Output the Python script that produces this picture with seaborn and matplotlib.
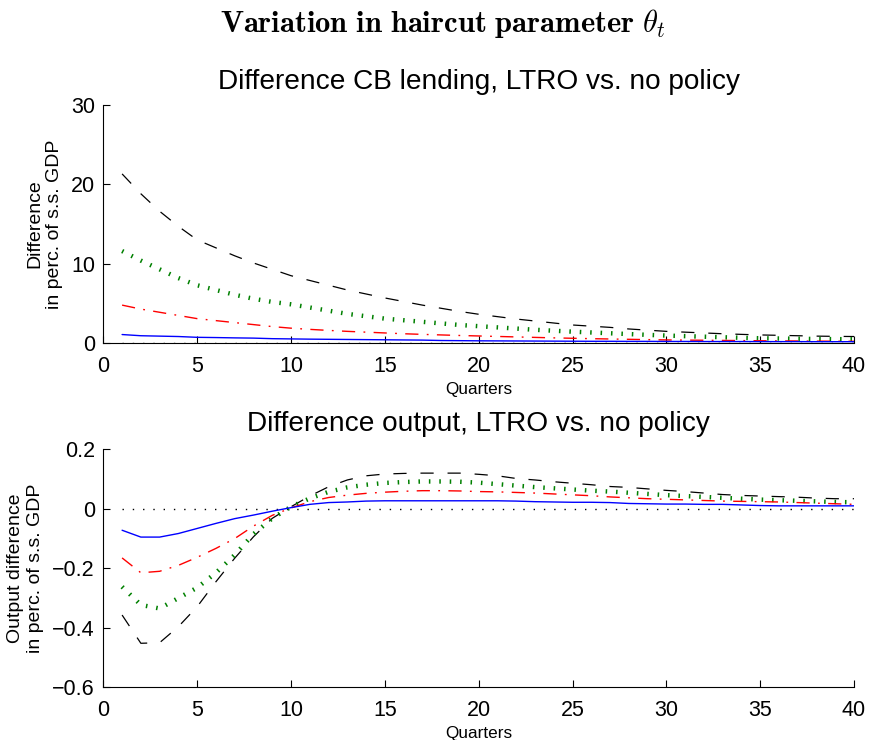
import numpy as np
import pandas as pd
import matplotlib
matplotlib.use("Agg")
import matplotlib.pyplot as plt
import seaborn as sns

quarters = list(range(1, 41))

# Top panel: difference in CB lending (perc. of s.s. GDP)
lend_blue = [1.10, 0.95, 0.90, 0.85, 0.75, 0.72, 0.68, 0.65, 0.58, 0.55,
             0.52, 0.50, 0.48, 0.46, 0.44, 0.42, 0.40, 0.35, 0.33, 0.31,
             0.30, 0.29, 0.28, 0.27, 0.26, 0.25, 0.25, 0.24, 0.24, 0.23,
             0.23, 0.22, 0.22, 0.22, 0.21, 0.21, 0.21, 0.20, 0.20, 0.20]
lend_red = [4.8, 4.3, 3.9, 3.5, 3.1, 2.85, 2.6, 2.35, 2.1, 1.9,
            1.75, 1.62, 1.5, 1.4, 1.3, 1.2, 1.12, 1.05, 0.98, 0.92,
            0.86, 0.8, 0.74, 0.68, 0.63, 0.58, 0.54, 0.5, 0.46, 0.42,
            0.4, 0.38, 0.36, 0.34, 0.32, 0.3, 0.29, 0.27, 0.26, 0.25]
lend_green = [11.6, 10.4, 9.3, 8.2, 7.3, 6.7, 6.1, 5.6, 5.2, 4.9,
              4.5, 4.1, 3.7, 3.4, 3.1, 2.9, 2.7, 2.5, 2.3, 2.15,
              2.0, 1.85, 1.7, 1.58, 1.46, 1.36, 1.26, 1.16, 1.06, 0.97,
              0.9, 0.83, 0.76, 0.69, 0.63, 0.6, 0.57, 0.54, 0.52, 0.5]
lend_black = [21.3, 18.8, 16.6, 14.7, 13.0, 12.0, 11.0, 10.1, 9.3, 8.5,
              7.9, 7.3, 6.7, 6.2, 5.7, 5.25, 4.8, 4.4, 4.0, 3.65,
              3.35, 3.05, 2.8, 2.55, 2.3, 2.15, 2.0, 1.8, 1.65, 1.5,
              1.4, 1.3, 1.2, 1.12, 1.05, 1.0, 0.95, 0.9, 0.87, 0.85]

# Bottom panel: output difference (perc. of s.s. GDP)
out_blue = [-0.072, -0.095, -0.095, -0.083, -0.066, -0.049, -0.033, -0.021, -0.008, 0.004,
            0.015, 0.021, 0.023, 0.026, 0.027, 0.027, 0.027, 0.027, 0.027, 0.027,
            0.027, 0.026, 0.024, 0.023, 0.022, 0.022, 0.021, 0.018, 0.017, 0.016,
            0.016, 0.015, 0.015, 0.013, 0.011, 0.010, 0.010, 0.010, 0.010, 0.010]
out_red = [-0.165, -0.215, -0.21, -0.19, -0.163, -0.133, -0.1, -0.058, -0.022, 0.003,
           0.024, 0.038, 0.046, 0.052, 0.056, 0.059, 0.061, 0.061, 0.060, 0.058,
           0.057, 0.055, 0.053, 0.05, 0.047, 0.044, 0.04, 0.037, 0.034, 0.032,
           0.030, 0.028, 0.026, 0.025, 0.024, 0.023, 0.021, 0.019, 0.017, 0.015]
out_green = [-0.262, -0.323, -0.335, -0.30, -0.265, -0.215, -0.155, -0.085, -0.032, 0.007,
             0.035, 0.057, 0.072, 0.081, 0.087, 0.09, 0.092, 0.092, 0.091, 0.088,
             0.083, 0.078, 0.073, 0.069, 0.065, 0.061, 0.058, 0.054, 0.05, 0.046,
             0.043, 0.04, 0.037, 0.034, 0.031, 0.029, 0.027, 0.025, 0.023, 0.022]
out_black = [-0.357, -0.452, -0.45, -0.396, -0.329, -0.245, -0.166, -0.094, -0.032, 0.007,
             0.043, 0.074, 0.097, 0.111, 0.117, 0.119, 0.12, 0.12, 0.12, 0.116,
             0.111, 0.102, 0.097, 0.091, 0.086, 0.081, 0.075, 0.072, 0.067, 0.062,
             0.058, 0.053, 0.048, 0.045, 0.043, 0.041, 0.039, 0.036, 0.034, 0.034]
zero_line = [0.0] * 40

top_title = "Difference CB lending, LTRO vs. no policy"
bottom_title = "Difference output, LTRO vs. no policy"
top_ylabel = "Difference\nin perc. of s.s. GDP"
bottom_ylabel = "Output difference\nin perc. of s.s. GDP"
xlabel = "Quarters"
suptitle = r"$\mathbf{Variation\ in\ haircut\ parameter}\ \theta_t$"

sns.set_style("ticks")
plt.rcParams["font.family"] = ["Liberation Sans", "DejaVu Sans"]
plt.rcParams["mathtext.fontset"] = "cm"
plt.rcParams["lines.scale_dashes"] = False
plt.rcParams["axes.unicode_minus"] = True
plt.rcParams["text.color"] = "black"
plt.rcParams["axes.labelcolor"] = "black"
plt.rcParams["xtick.color"] = "black"
plt.rcParams["ytick.color"] = "black"

fig = plt.figure(figsize=(8.69, 7.40), dpi=100)
ax1 = fig.add_axes([0.1189, 0.5361, 0.8639, 0.3224])
ax2 = fig.add_axes([0.1189, 0.0712, 0.8639, 0.3216])

styles = [
    ("zero", "black", 1.0, (0, (1.0, 6.4))),
    ("black", "black", 0.9, (0, (9.5, 10.0))),
    ("green", "#008000", 3.2, (0, (1.1, 6.4))),
    ("red", "red", 1.0, (0, (9.5, 6.0, 1.3, 6.0))),
    ("blue", "blue", 1.0, None),
]

def draw(ax, series):
    for name, color, lw, dash in styles:
        df = pd.DataFrame({"q": quarters, "v": series[name]})
        sns.lineplot(data=df, x="q", y="v", ax=ax, color=color, linewidth=lw,
                     estimator=None, sort=False)
        line = ax.get_lines()[-1]
        if dash is not None:
            line.set_linestyle(dash)
        line.set_dash_capstyle("butt")

draw(ax1, {"zero": zero_line, "black": lend_black, "green": lend_green,
           "red": lend_red, "blue": lend_blue})
draw(ax2, {"zero": zero_line, "black": out_black, "green": out_green,
           "red": out_red, "blue": out_blue})

for ax in (ax1, ax2):
    ax.set_xlim(0, 40)
    ax.set_xticks([0, 5, 10, 15, 20, 25, 30, 35, 40])
    ax.tick_params(direction="in", length=5, width=0.8, labelsize=15.5,
                   colors="black")
    ax.tick_params(axis="x", pad=9)
    ax.tick_params(axis="y", pad=6)
    for s in ("top", "right"):
        ax.spines[s].set_visible(False)
    for s in ("left", "bottom"):
        ax.spines[s].set_linewidth(0.8)
        ax.spines[s].set_color("black")
    ax.set_xlabel(xlabel, fontsize=12.3, labelpad=4)
    ax.set_facecolor("white")

ax1.set_ylim(0, 30)
ax1.set_yticks([0, 10, 20, 30])
ax1.set_title(top_title, fontsize=20.2, pad=11)
ax1.set_ylabel(top_ylabel, fontsize=14, labelpad=6)

ax2.set_ylim(-0.6, 0.2)
ax2.set_yticks([-0.6, -0.4, -0.2, 0, 0.2])
ax2.set_yticklabels(["\u22120.6", "\u22120.4", "\u22120.2", "0", "0.2"])
ax2.set_title(bottom_title, fontsize=20.2, pad=13)
ax2.set_ylabel(bottom_ylabel, fontsize=14, labelpad=6)

fig.text(0.51, 0.968, suptitle, ha="center", va="center", fontsize=22)

fig.savefig("out.png", dpi=100, facecolor="white")
